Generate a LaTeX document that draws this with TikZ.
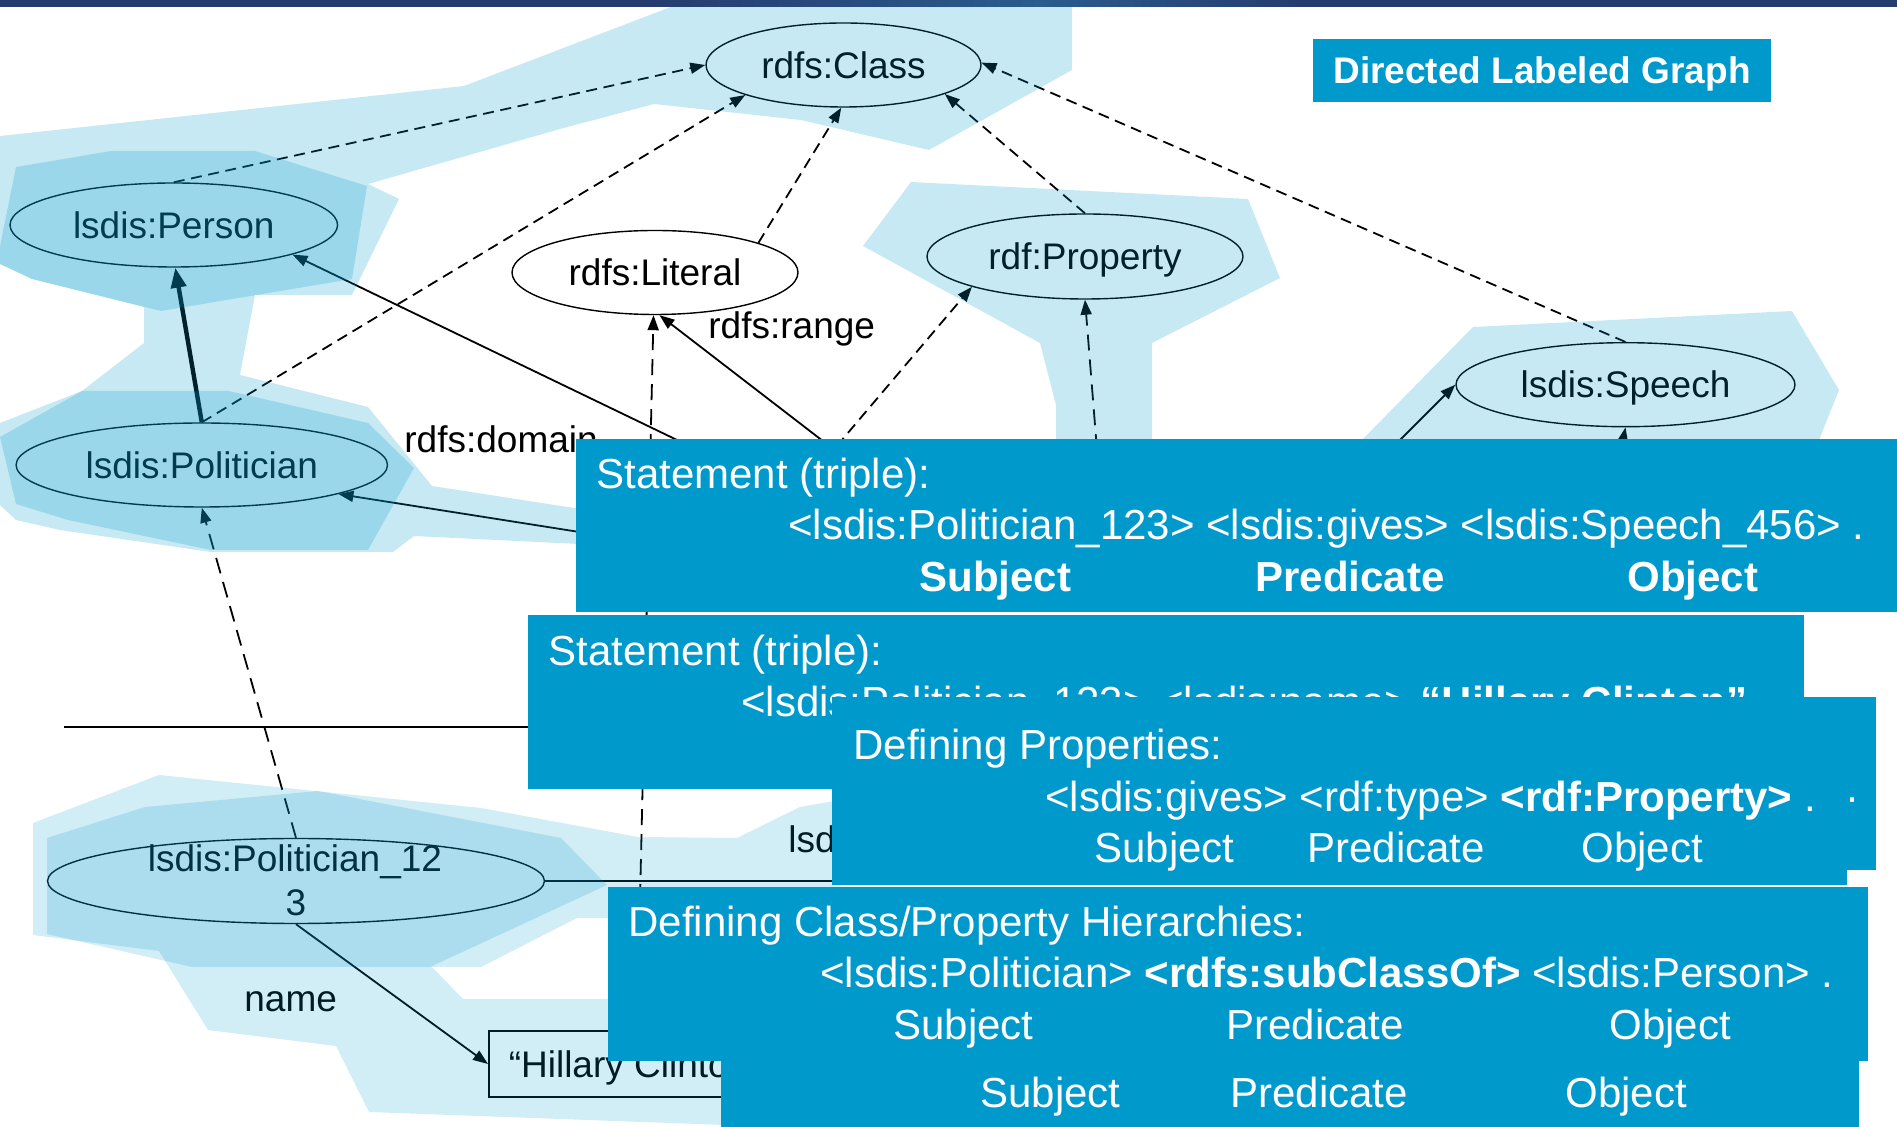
\documentclass[tikz,border=0pt]{standalone}
\usepackage{fontspec}
\setmainfont{Liberation Sans}
\usetikzlibrary{shapes.geometric,arrows.meta}
\definecolor{boxblue}{RGB}{0,153,204}
\definecolor{topnavy}{RGB}{38,60,110}
\definecolor{topmid}{RGB}{42,92,142}
\newcommand\gnodefont{\fontsize{18.5}{22}\selectfont}
\newcommand\gboxfont{\fontsize{21}{25}\selectfont}
\tikzset{
  ent/.style={ellipse, draw=black, line width=0.7pt, inner sep=0pt, text height=13.25pt, text depth=0pt, font=\gnodefont},
  lbl/.style={anchor=base west, inner sep=0pt, font=\gnodefont},
  tipA/.style={-{Triangle[length=7.5pt,width=5.5pt]}},
  dsh/.style={tipA, line width=0.9pt, dash pattern=on 5.5pt off 3.3pt},
  dshL/.style={tipA, line width=0.9pt, dash pattern=on 8pt off 4.5pt},
  sol/.style={tipA, line width=0.9pt},
  thk/.style={-{Triangle[length=10pt,width=7.5pt]}, line width=2.2pt},
  hullT/.style={fill=boxblue, fill opacity=0.22},
  hullB/.style={fill=boxblue, fill opacity=0.18},
  bbox/.style={fill=boxblue, inner sep=0pt, outer sep=0pt, anchor=north west},
  tx/.style={anchor=base west, inner sep=0pt, text=white, font=\gboxfont},
  txb/.style={anchor=base west, inner sep=0pt, text=white, font=\gboxfont\bfseries},
}
\begin{document}
\begin{tikzpicture}[x=0.5pt,y=-0.5pt]
\useasboundingbox (0,0) rectangle (1897,1127);
\clip (0,0) rectangle (1897,1127);

% ---------- graph nodes ----------
\node[ent, minimum width=137.5pt, minimum height=42pt] (class) at (843.5,65) {rdfs:Class};
\node[ent, minimum width=163.8pt, minimum height=42pt] (person) at (173.8,225) {lsdis:Person};
\node[ent, minimum width=185.7pt, minimum height=42pt] (pol) at (201.8,465) {lsdis:Politician};
\node[ent, minimum width=143pt, minimum height=42pt] (lit) at (655,272.5) {rdfs:Literal};
\node[ent, minimum width=158pt, minimum height=42.5pt] (prop) at (1085,256.5) {rdf:Property};
\node[ent, minimum width=169.5pt, minimum height=42pt] (speech) at (1625.5,384.7) {lsdis:Speech};
\node[ent, minimum width=248.5pt, minimum height=42.5pt] (p123) at (296,881) {};
\node[anchor=base, inner sep=0pt, font=\gnodefont] (p123a) at (295,872) {lsdis:Politician\_12};
\node[anchor=base, inner sep=0pt, font=\gnodefont] (p123b) at (296,916) {3};
\node[draw=black, line width=0.8pt, anchor=west, minimum height=33pt, inner xsep=10pt, inner ysep=0pt,
      text height=13.25pt, text depth=0pt, font=\gnodefont] (hill) at (488,1064) {“Hillary Clinton”};

% hidden ends (under the boxes)
\coordinate (g1) at (760,480);
\coordinate (g2) at (700,551);
\coordinate (g3) at (880,485);
\coordinate (g4) at (791,500);
\coordinate (g5) at (640,900);
\coordinate (g6) at (1101,500);
\coordinate (g7) at (1360,480);
\coordinate (g8) at (1615,480);
\coordinate (g9) at (1400,881);
\coordinate (sepL) at (64,727);
\coordinate (sepR) at (600,727);

% ---------- connectors ----------
\draw[dsh] (person.north) -- (class.180);
\draw[dsh] (pol.north) -- (class.197);
\draw[dsh] (lit.16) -- (class.-93);
\draw[dsh] (prop.north) -- (class.-16);
\draw[dsh] (speech.north) -- (class.1);
\draw[thk] (pol.north) -- (person.-88);
\draw[sol] (g1) -- (person.-14);
\draw[sol] (g2) -- (pol.-12.7);
\draw[sol] (g3) -- (lit.-84);
\draw[dsh] (g4) -- (prop.195.7);
\draw[dshL] (g5) -- (lit.-92);
\draw[dshL] (g6) -- (prop.-90);
\draw[sol] (g7) -- (speech.west);
\draw[sol] (g8) -- (speech.south);
\draw[dshL] (p123.north) -- (pol.south);
\draw[sol] (p123.south) -- (hill.west);
\draw[line width=0.9pt] (p123.east) -- (g9);
\draw[line width=0.9pt] (sepL) -- (sepR);

% ---------- edge labels ----------
\node[lbl] (lrange) at (708,339) {rdfs:range};
\node[lbl] (ldomain) at (404,453) {rdfs:domain};
\node[lbl] (lname) at (244,1012) {name};
\node[lbl] (lgives) at (788,853) {lsdis:gives};

% ---------- hulls (translucent) ----------
\fill[hullT] (0,136) -- (464,86) -- (676,5) -- (1072,5) -- (1072,70) -- (929,150) -- (801,120)
  -- (654,104) -- (560,129) -- (368,184) -- (399,199) -- (352,295) -- (255,295) -- (240,375)
  -- (368,407) -- (432,486) -- (600,512) -- (600,545) -- (414,536) -- (393,552) -- (211,552)
  -- (60,530) -- (16,520) -- (0,505) -- (0,423) -- (82,391) -- (144,343) -- (144,307)
  -- (32,279) -- (0,264) -- cycle;
\fill[hullT] (16,167) -- (111,151) -- (255,151) -- (367,186) -- (352,279) -- (161,311)
  -- (32,279) -- (0,264) -- (0,246) -- cycle;
\fill[hullT] (0,437) -- (82,391) -- (229,391) -- (368,423) -- (414,468) -- (368,550)
  -- (211,550) -- (68,520) -- (16,504) -- cycle;
\fill[hullT] (911,182) -- (1248,199) -- (1280,278) -- (1152,343) -- (1152,445) -- (1056,445)
  -- (1056,405) -- (1040,343) -- (863,246) -- cycle;
\fill[hullT] (1357,445) -- (1473,327) -- (1792,311) -- (1839,390) -- (1817,445) -- cycle;
\fill[hullB] (33,823) -- (159,775) -- (481,808) -- (638,837) -- (737,838) -- (800,807)
  -- (840,800) -- (840,900) -- (608,905) -- (608,918) -- (577,918) -- (481,967) -- (432,967)
  -- (463,999) -- (725,999) -- (725,1125) -- (369,1112) -- (336,1046) -- (208,1030)
  -- (159,951) -- (33,935) -- cycle;
\fill[hullB] (47,838) -- (145,807) -- (318,791) -- (561,838) -- (607,885) -- (430,967)
  -- (192,967) -- (47,934) -- cycle;

% ---------- title box ----------
\node[fill=boxblue, minimum width=229pt, minimum height=31.5pt, inner sep=0pt, text height=13.25pt,
      text depth=0pt, text=white, font=\gnodefont\bfseries] (dlg) at (1542,70.5) {Directed Labeled Graph};

% ---------- box B ----------
\node[bbox, minimum width=660.5pt, minimum height=86.5pt] (boxB) at (576,439) {};
\node[tx] (b1) at (596,489) {Statement (triple):};
\node[tx] (b2) at (788,540) {<lsdis:Politician\_123> <lsdis:gives> <lsdis:Speech\_456> .};
\node[txb] (b3) at (919,592) {Subject};
\node[txb] (b4) at (1255,592) {Predicate};
\node[txb] (b5) at (1627,592) {Object};

% ---------- box C ----------
\node[bbox, minimum width=638pt, minimum height=87pt] (boxC) at (528,615) {};
\node[tx] (c1) at (548,666) {Statement (triple):};
\node[tx] (c2) at (741,717) {<lsdis:Politician\_123> <lsdis:name> \textbf{“Hillary Clinton”}};

% ---------- box D ----------
\node[bbox, minimum width=522pt, minimum height=86.5pt] (boxD) at (832,697) {};
\node[bbox, minimum width=507.5pt, minimum height=7.5pt] (boxDs) at (832,870) {};
\node[tx] (d1) at (853,760) {Defining Properties:};
\node[tx] (d2) at (1045,812) {<lsdis:gives> <rdf:type> \textbf{<rdf:Property>} .};
\node[tx] (d2b) at (1845,812) {·};
\node[tx] (d3) at (1094,863) {Subject};
\node[tx] (d4) at (1307,863) {Predicate};
\node[tx] (d5) at (1581,863) {Object};

% ---------- box E ----------
\node[bbox, minimum width=630pt, minimum height=87pt] (boxE) at (608,887) {};
\node[tx] (e1) at (628,937) {Defining Class/Property Hierarchies:};
\node[tx] (e2) at (820,988) {<lsdis:Politician> \textbf{<rdfs:subClassOf>} <lsdis:Person> .};
\node[tx] (e3) at (893,1040) {Subject};
\node[tx] (e4) at (1226,1040) {Predicate};
\node[tx] (e5) at (1609,1040) {Object};

% ---------- box F ----------
\node[bbox, minimum width=569pt, minimum height=33pt] (boxF) at (721,1061) {};
\node[tx] (f1) at (980,1108) {Subject};
\node[tx] (f2) at (1230,1108) {Predicate};
\node[tx] (f3) at (1565,1108) {Object};

% ---------- top bar ----------
\fill[topnavy] (0,0) rectangle (1897,7);
\shade[left color=topnavy, right color=topmid] (650,0) rectangle (1040,7);
\shade[left color=topmid, right color=topnavy] (1040,0) rectangle (1300,7);
\end{tikzpicture}
\end{document}
